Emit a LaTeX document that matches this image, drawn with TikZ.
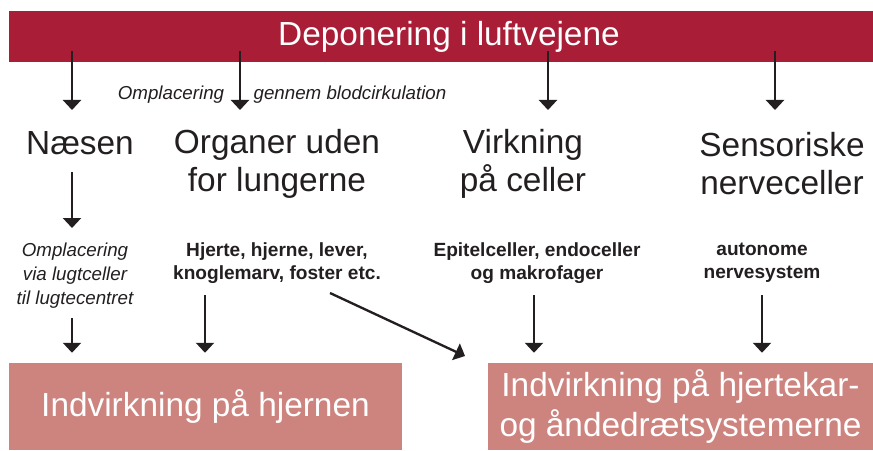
\documentclass[tikz,border=0pt]{standalone}
\usepackage{fontspec}
\setmainfont{Liberation Sans}
\usetikzlibrary{arrows.meta,positioning,calc}
\definecolor{barred}{HTML}{A91D37}
\definecolor{boxrose}{HTML}{CD847F}
\definecolor{ink}{HTML}{231F20}
\tikzset{
  bar/.style={fill=barred, text=white, minimum width=25.92cm, minimum height=1.53cm, inner sep=0pt, font=\fontsize{28.5}{32.5}\selectfont},
  resbox/.style={fill=boxrose, text=white, align=center, inner sep=0pt, minimum height=2.61cm, font=\fontsize{28.5}{34}\selectfont},
  headtxt/.style={text=ink, align=center, inner sep=0pt, font=\fontsize{28.5}{32.5}\selectfont},
  detailtxt/.style={text=ink, align=center, inner sep=0pt, font=\fontsize{16.3}{20}\selectfont\bfseries},
  notetxt/.style={text=ink, align=center, inner sep=0pt, font=\fontsize{16}{20.5}\selectfont\itshape},
  arrow/.style={-{Triangle[width=5.4mm,length=3mm]}, line width=2pt, draw=ink}
}
\begin{document}
\begin{tikzpicture}[x=0.03cm,y=-0.03cm]
\useasboundingbox (0,0) rectangle (873,450);
% top bar
\node[bar] (dep) at (441,36.5) {\hspace*{0.48cm}Deponering i luftvejene};
\node[notetxt] (omp) at (171,95) {Omplacering};
\node[notetxt] (blod) at (350,95) {gennem blodcirkulation};
% headings
\node[headtxt] (nose) at (80,143) {Næsen};
\node[headtxt] (organs) at (277,164) {Organer uden\\for lungerne};
\node[headtxt] (cells) at (523,164) {Virkning\\på celler};
\node[headtxt] (nerves) at (782,164) {Sensoriske\\nerveceller};
% details
\node[notetxt] (smell) at (75,276) {Omplacering\\via lugtceller\\til lugtecentret};
\node[detailtxt] (organlist) at (277,263) {Hjerte, hjerne, lever,\\knoglemarv, foster etc.};
\node[detailtxt] (celllist) at (537,263) {Epitelceller, endoceller\\og makrofager};
\node[detailtxt] (autolist) at (762,263) {autonome\\nervesystem};
% results
\node[resbox, minimum width=11.79cm] (brain) at (205.5,406.5) {Indvirkning på hjernen};
\node[resbox, minimum width=11.55cm] (heart) at (680.5,406.5) {Indvirkning på hjertekar-\\og åndedrætsystemerne};
% arrows
\coordinate (k1) at (72,110);
\coordinate (k2) at (240,110);
\coordinate (k3) at (548,110);
\coordinate (k4) at (775,110);
\foreach \k in {k1,k2,k3,k4}
  \draw[arrow] ([yshift=0.33cm]dep.south -| \k) -- (\k);
\coordinate (n1) at (72,172);
\coordinate (n2) at (72,228);
\draw[arrow] (n1) -- (n2);
\coordinate (l1) at (72,318);
\coordinate (l2) at (205,295);
\coordinate (l3) at (534,295);
\coordinate (l4) at (762,295);
\coordinate (l5) at (330,293);
\coordinate (m5) at (465,356);
\draw[arrow] (l1) -- ([yshift=0.3cm]brain.north -| l1);
\draw[arrow] (l2) -- ([yshift=0.3cm]brain.north -| l2);
\draw[arrow] (l3) -- ([yshift=0.3cm]heart.north -| l3);
\draw[arrow] (l4) -- ([yshift=0.3cm]heart.north -| l4);
\draw[arrow] (l5) -- (m5);
\end{tikzpicture}
\end{document}
